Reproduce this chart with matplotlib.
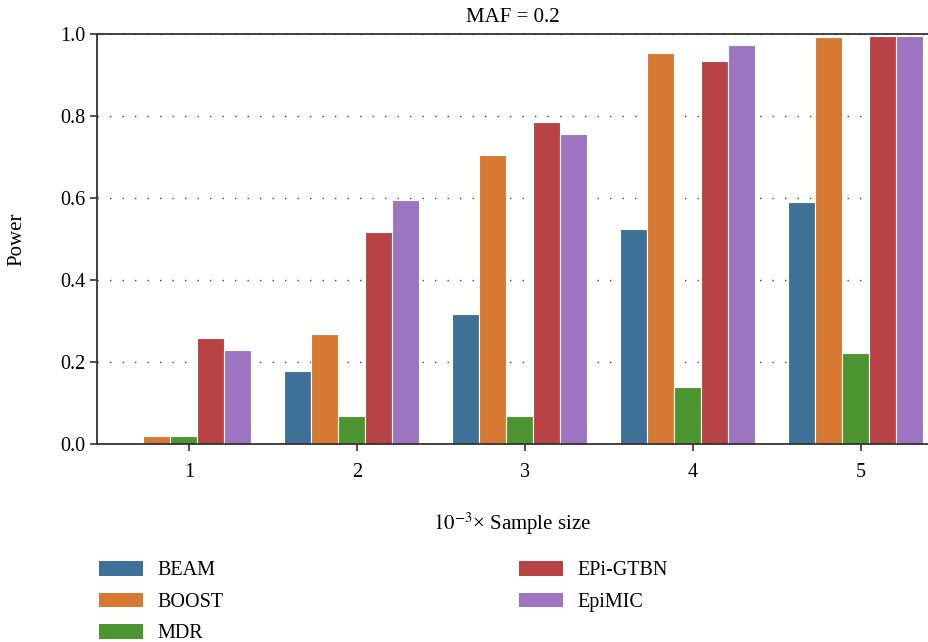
import numpy as np
import matplotlib.pyplot as plt
from matplotlib.patches import Patch

plt.rcParams['font.family'] = ['Liberation Serif', 'DejaVu Serif']
plt.rcParams['mathtext.fontset'] = 'stix'

# data
sizes = [1, 2, 3, 4, 5]
methods = ['BEAM', 'BOOST', 'MDR', 'EPi-GTBN', 'EpiMIC']
colors = ['#3f7198', '#d67a33', '#4c9530', '#b94244', '#9d74c0']
beam = [0.0, 0.177, 0.318, 0.525, 0.590]
boost = [0.02, 0.269, 0.705, 0.954, 0.993]
mdr = [0.02, 0.069, 0.068, 0.138, 0.221]
epi_gtbn = [0.258, 0.518, 0.786, 0.934, 0.996]
epimic = [0.229, 0.596, 0.757, 0.973, 0.996]
values = [beam, boost, mdr, epi_gtbn, epimic]

fig = plt.figure(figsize=(9.29, 6.42), dpi=100)
ax = fig.add_axes([97 / 929, 1 - 444 / 642, 831 / 929, 410 / 642])

x = np.array(sizes, dtype=float)
width = 0.161
for i, (vals, c) in enumerate(zip(values, colors)):
    ax.bar(x + (i - 2) * width - 0.034, vals, width=width, color=c,
           edgecolor='white', linewidth=0.8, zorder=3)

ax.set_xlim(0.451, 5.40)
ax.set_ylim(0, 1.0)
ax.set_xticks(sizes)
ax.set_yticks([0.0, 0.2, 0.4, 0.6, 0.8, 1.0])
ax.set_yticklabels(['0.0', '0.2', '0.4', '0.6', '0.8', '1.0'])
ax.tick_params(axis='both', labelsize=14.5, length=5, width=1.2, color='#333333')
ax.tick_params(axis='x', pad=9)

ax.yaxis.grid(True, linestyle=(0, (1, 8)), color='#444444', linewidth=1.0, zorder=0)
ax.set_axisbelow(True)

ax.spines['right'].set_visible(False)
for s in ['left', 'bottom', 'top']:
    ax.spines[s].set_linewidth(1.3)
    ax.spines[s].set_color('#333333')
    ax.spines[s].set_zorder(5)

ax.set_title('MAF = 0.2', fontsize=15, pad=9)
ax.set_ylabel('Power', fontsize=15, labelpad=24)
ax.set_xlabel(r'$10^{-3}$× Sample size', fontsize=15, labelpad=20)

handles = [Patch(facecolor=c) for c in colors]
kw = dict(frameon=False, fontsize=14.5, handlelength=2.2, handleheight=0.75,
          handletextpad=0.7, labelspacing=0.6, borderpad=0, loc='upper left')
fig.legend(handles[:3], methods[:3], bbox_to_anchor=(89 / 929, 1 - 551 / 642), **kw)
fig.legend(handles[3:], methods[3:], bbox_to_anchor=(509 / 929, 1 - 551 / 642), **kw)

fig.savefig('out.png', dpi=100)
